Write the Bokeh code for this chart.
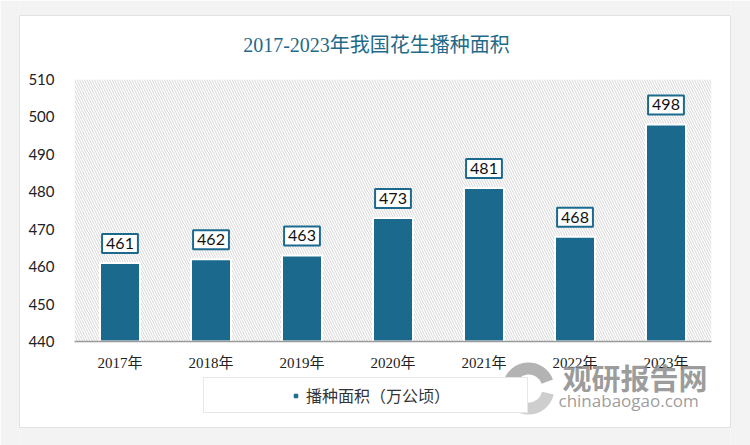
from bokeh.plotting import figure
from bokeh.models import ColumnDataSource, Legend, LegendItem, Range1d, FactorRange
from bokeh.embed import file_html
from bokeh.resources import INLINE
from bokeh.core.properties import value

years = ["2017年", "2018年", "2019年", "2020年", "2021年", "2022年", "2023年"]
area = [461, 462, 463, 473, 481, 468, 498]
y_ticks = [440, 450, 460, 470, 480, 490, 500, 510]
title_text = "2017-2023年我国花生播种面积"
series_name = "播种面积（万公顷）"
watermark_cn = "观研报告网"
watermark_en = "chinabaogao.com"

BAR = "#1b6a8e"
FONT_SERIF = "Liberation Serif, Noto Sans CJK SC"
FONT_SANS = "Lato, Noto Sans CJK SC"
SP = "\u3000"

src = ColumnDataSource(dict(x=years, y=area, lbl=[str(v) for v in area]))

FL, FR, FT, FB = 74, 711, 79, 341

p = figure(width=750, height=445, x_range=FactorRange(*years, range_padding=0), y_range=Range1d(440, 510),
           output_backend="svg", toolbar_location=None,
           min_border_left=FL, min_border_right=750 - FR, min_border_bottom=445 - FB, min_border_top=FT)
p.background_fill_color = "white"
p.border_fill_color = "white"
p.outline_line_color = None
p.grid.grid_line_color = None

# hatched plot background spanning the frame
p.quad(left=[0], right=[7], bottom=[440], top=[510], fill_color="white",
       line_color=None, hatch_pattern="\\", hatch_color="#d6d6d6", hatch_scale=5,
       hatch_weight=1, hatch_alpha=1.0)

bars = p.vbar(x="x", top="y", bottom=440, width=0.44, source=src, fill_color=BAR,
              line_color="white", line_width=2)

p.text(x="x", y="y", text="lbl", source=src, text_align="center", text_baseline="bottom",
       y_offset=-10, text_font=value(FONT_SANS), text_font_size="16px", text_color="#111111",
       background_fill_color="white", border_line_color=BAR, border_line_width=2,
       padding=4)

p.yaxis.ticker = y_ticks
p.yaxis.axis_line_color = None
p.yaxis.major_tick_line_color = None
p.yaxis.minor_tick_line_color = None
p.yaxis.major_label_text_font = FONT_SANS
p.yaxis.major_label_text_font_size = "15px"
p.yaxis.major_label_text_color = "#222222"
p.yaxis.major_label_standoff = 14

p.xaxis.axis_line_color = "#9a9a9a"
p.xaxis.axis_line_width = 1.5
p.xaxis.major_tick_line_color = None
p.xaxis.minor_tick_line_color = None
p.xaxis.major_label_text_font = FONT_SERIF
p.xaxis.major_label_text_font_size = "15px"
p.xaxis.major_label_text_color = "#222222"
p.xaxis.major_label_standoff = 7

# overlay (separate root, absolutely positioned): surround, title, legend, watermark
o = figure(width=750, height=445, x_range=Range1d(0, 750), y_range=Range1d(445, 0),
           output_backend="svg", toolbar_location=None, x_axis_location=None, y_axis_location=None,
           min_border=0, styles={"position": "absolute", "top": "0px", "left": "0px"})
o.background_fill_alpha = 0
o.border_fill_alpha = 0
o.outline_line_color = None
o.grid.grid_line_color = None
o.quad(left=[0, 730, 19, 19], right=[19, 750, 730, 730], top=[0, 0, 0, 427], bottom=[445, 445, 15, 445],
       fill_color="#f3f3f3", line_color=None)
o.quad(left=[19], right=[730], top=[15], bottom=[427], fill_alpha=0, line_color="#e2e2e2", line_width=1)

o.text(x=[376], y=[44], text=[title_text], text_align="center", text_baseline="middle",
       text_font=value(FONT_SERIF), text_font_size="20px", text_color="#1f6a8a")

o.annular_wedge(x=[528, 528], y=[388, 388], inner_radius=14, outer_radius=26,
                start_angle=[0.35, 3.5], end_angle=[2.9, 6.05], start_angle_units="rad",
                fill_color=["#9a9a9a", "#bdbdbd"], fill_alpha=0.75, line_color=None)
o.text(x=[562], y=[376], text=[watermark_cn], text_font=value("Noto Sans CJK SC"),
       text_font_size="29px", text_font_style="bold", text_color="#8a8a8a", text_alpha=0.85,
       text_baseline="middle")
o.text(x=[558], y=[400], text=[watermark_en], text_font=value("Open Sans"),
       text_font_size="17px", text_color="#8a8a8a", text_alpha=0.85, text_baseline="middle")

# legend (an invisible first item pads the left side of the box)
legend_marker = o.scatter(x=[-100], y=[-100], marker="square", size=9, fill_color=BAR, line_color=BAR)
spacer = o.scatter(x=[-100], y=[-100], marker="square", size=9, fill_alpha=0, line_alpha=0)
leg = Legend(items=[LegendItem(label=SP * 3, renderers=[spacer]),
                    LegendItem(label=series_name + SP * 5, renderers=[legend_marker])],
             orientation="horizontal", location=(203, 32),
             border_line_color="#cfcfcf", border_line_width=1.5, background_fill_color="white",
             background_fill_alpha=1, label_text_font=FONT_SANS,
             label_text_font_size="16px", label_text_color="#333333", glyph_width=9,
             glyph_height=9, padding=5, margin=0, spacing=5, label_standoff=6, label_width=62,
             label_height=20)
o.add_layout(leg, "center")

open("out.html", "w").write(file_html([p, o], INLINE))
